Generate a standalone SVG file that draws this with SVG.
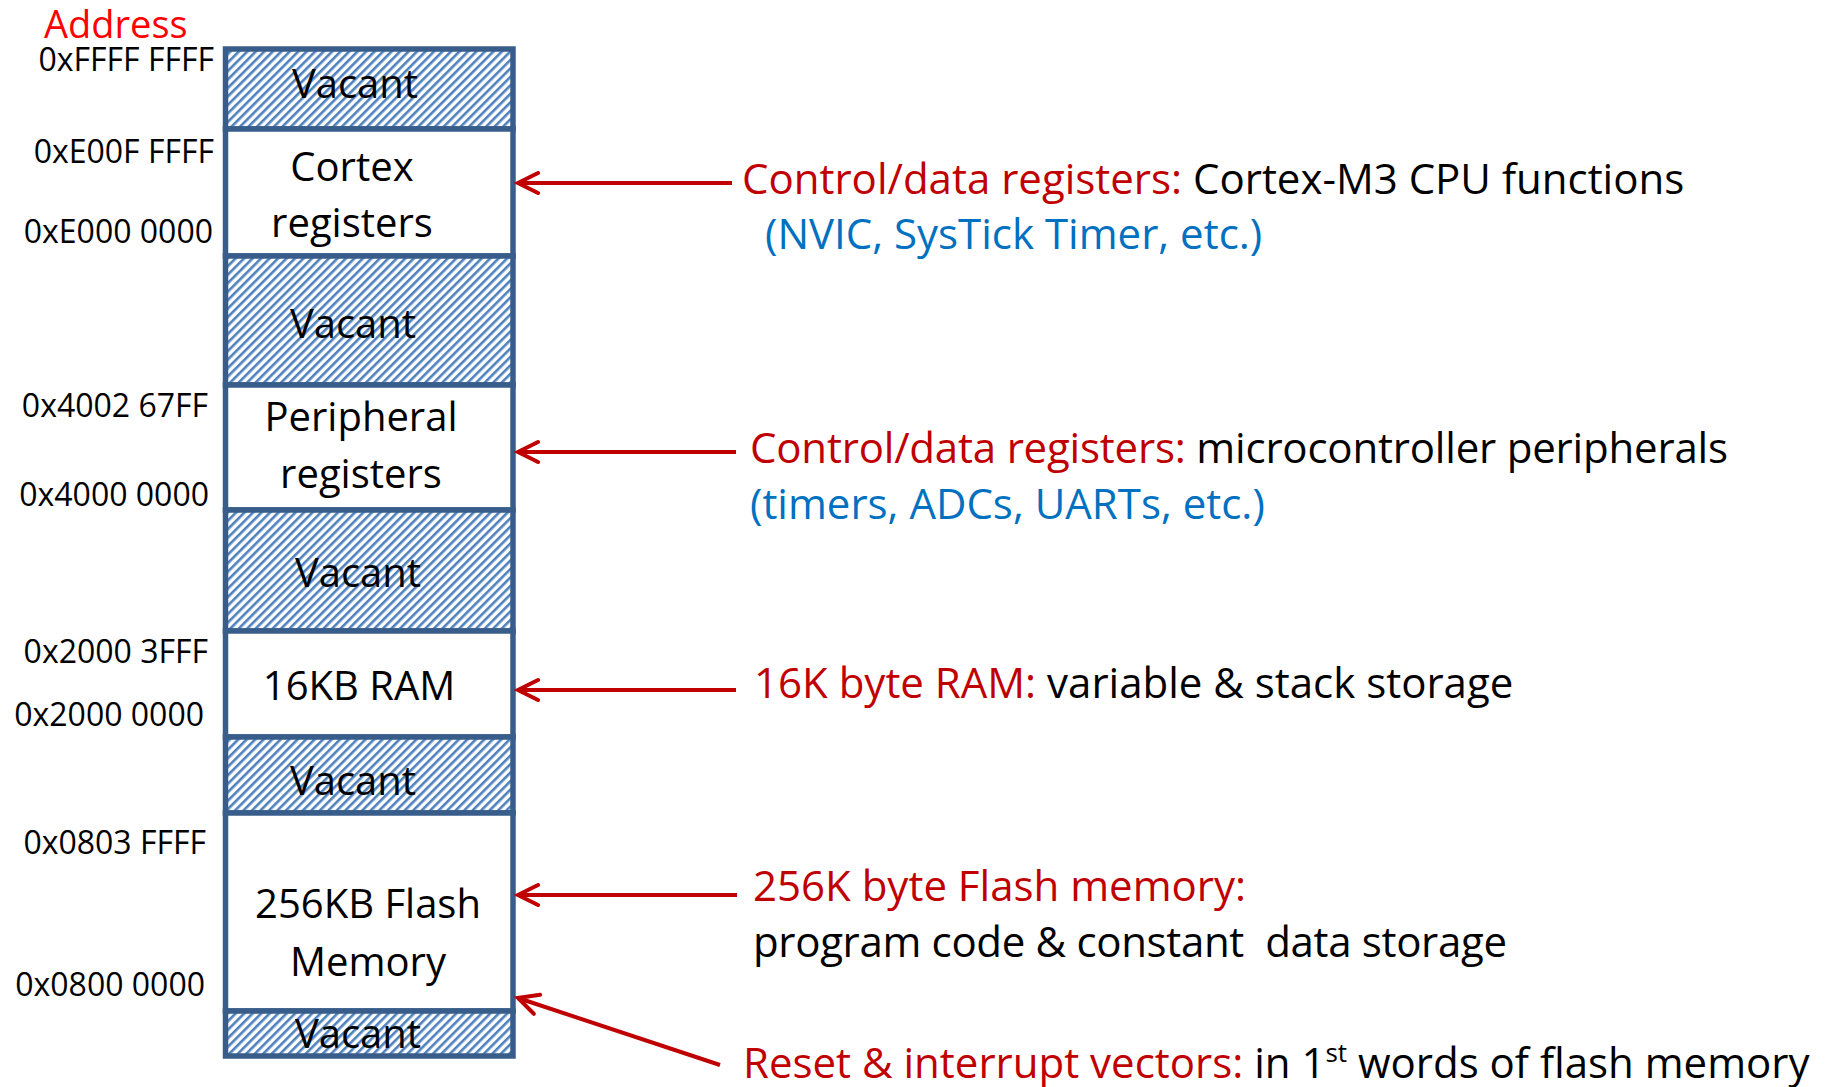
<svg xmlns="http://www.w3.org/2000/svg" width="1827" height="1087" viewBox="0 0 1827 1087">
  <style>
    .t { font-family: "Open Sans", "Liberation Sans", sans-serif; }
    .box { stroke: #385D8A; stroke-width: 5.5; }
    .vac { fill: url(#hatch); }
    .mem { fill: #FFFFFF; }
    .lbl { font-size: 40px; fill: #000000; text-anchor: middle; }
    .hex { font-size: 32px; fill: #000000; text-anchor: end; }
    .ann { font-size: 42px; }
    .red { fill: #C00000; }
    .blk { fill: #000000; }
    .blu { fill: #0070C0; }
    .conn { stroke: #C00000; stroke-width: 4; fill: none; marker-end: url(#arr); }
  </style>
  <defs>
    <pattern id="hatch" patternUnits="userSpaceOnUse" width="6" height="10" patternTransform="rotate(45)">
      <rect x="0" y="0" width="6" height="10" fill="#FFFFFF"/>
      <rect x="0" y="0" width="2.6" height="10" fill="#4F81BD"/>
    </pattern>
    <marker id="arr" markerUnits="userSpaceOnUse" viewBox="-24 -14 28 28" refX="0" refY="0" markerWidth="28" markerHeight="28" orient="auto">
      <path d="M-20,-10 L0,0 L-20,10" fill="none" stroke="#C00000" stroke-width="4" stroke-linecap="round" stroke-linejoin="miter"/>
    </marker>
  </defs>
  <rect x="0" y="0" width="1827" height="1087" fill="#FFFFFF"/>

  <text class="t" x="44" y="38" font-size="38" fill="#FF0000">Address</text>

  <g id="hex-labels">
    <text class="t hex" x="214" y="71">0xFFFF FFFF</text>
    <text class="t hex" x="214" y="163">0xE00F FFFF</text>
    <text class="t hex" x="213" y="243">0xE000 0000</text>
    <text class="t hex" x="208" y="417">0x4002 67FF</text>
    <text class="t hex" x="209" y="506">0x4000 0000</text>
    <text class="t hex" x="208" y="663">0x2000 3FFF</text>
    <text class="t hex" x="204" y="726">0x2000 0000</text>
    <text class="t hex" x="206" y="854">0x0803 FFFF</text>
    <text class="t hex" x="205" y="996">0x0800 0000</text>
  </g>

  <g id="vacant1">
    <rect class="box vac" x="225.5" y="49" width="287.5" height="80"/>
    <text class="t lbl" x="355" y="98">Vacant</text>
  </g>
  <g id="cortex-registers">
    <rect class="box mem" x="225.5" y="129" width="287.5" height="127"/>
    <text class="t lbl" x="352" y="181">Cortex</text>
    <text class="t lbl" x="352" y="237">registers</text>
  </g>
  <g id="vacant2">
    <rect class="box vac" x="225.5" y="256" width="287.5" height="129"/>
    <text class="t lbl" x="353" y="338">Vacant</text>
  </g>
  <g id="peripheral-registers">
    <rect class="box mem" x="225.5" y="385" width="287.5" height="125"/>
    <text class="t lbl" x="361" y="431">Peripheral</text>
    <text class="t lbl" x="361" y="488">registers</text>
  </g>
  <g id="vacant3">
    <rect class="box vac" x="225.5" y="510" width="287.5" height="121"/>
    <text class="t lbl" x="358" y="587">Vacant</text>
  </g>
  <g id="ram">
    <rect class="box mem" x="225.5" y="631" width="287.5" height="106"/>
    <text class="t lbl" x="359" y="700">16KB RAM</text>
  </g>
  <g id="vacant4">
    <rect class="box vac" x="225.5" y="737" width="287.5" height="76"/>
    <text class="t lbl" x="353" y="795">Vacant</text>
  </g>
  <g id="flash">
    <rect class="box mem" x="225.5" y="813" width="287.5" height="198"/>
    <text class="t lbl" x="368" y="918">256KB Flash</text>
    <text class="t lbl" x="368" y="976">Memory</text>
  </g>
  <g id="vacant5">
    <rect class="box vac" x="225.5" y="1011" width="287.5" height="45"/>
    <text class="t lbl" x="358" y="1048">Vacant</text>
  </g>

  <g id="connectors">
    <line class="conn" x1="732" y1="183" x2="518" y2="183"/>
    <line class="conn" x1="736" y1="452" x2="518" y2="452"/>
    <line class="conn" x1="736" y1="690" x2="518" y2="690"/>
    <line class="conn" x1="737" y1="895" x2="518" y2="895"/>
    <line class="conn" x1="720" y1="1065" x2="518" y2="998"/>
  </g>

  <g id="annotations">
    <text class="t ann" x="742" y="194"><tspan class="red">Control/data registers: </tspan><tspan class="blk">Cortex-M3 CPU functions</tspan></text>
    <text class="t ann blu" x="765" y="249">(NVIC, SysTick Timer, etc.)</text>
    <text class="t ann" x="750" y="463" textLength="978"><tspan class="red">Control/data registers: </tspan><tspan class="blk">microcontroller peripherals</tspan></text>
    <text class="t ann blu" x="750" y="519">(timers, ADCs, UARTs, etc.)</text>
    <text class="t ann" x="754" y="698"><tspan class="red">16K byte RAM: </tspan><tspan class="blk">variable &amp; stack storage</tspan></text>
    <text class="t ann red" x="753" y="901">256K byte Flash memory:</text>
    <text class="t ann blk" x="753" y="957" style="white-space:pre" textLength="754">program code &amp; constant  data storage</text>
    <text class="t ann" x="743" y="1078"><tspan class="red">Reset &amp; interrupt vectors: </tspan><tspan class="blk">in 1</tspan><tspan class="blk" font-size="26" dy="-16">st</tspan><tspan class="blk" dy="16"> words of flash memory</tspan></text>
  </g>
</svg>
